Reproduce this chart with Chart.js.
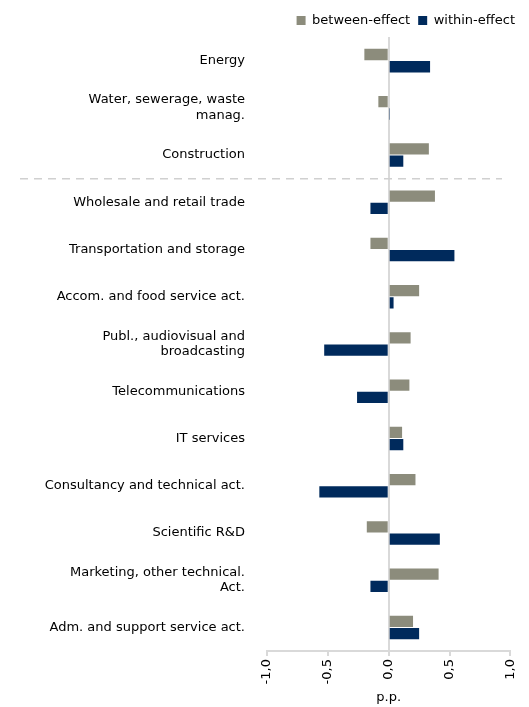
<!DOCTYPE html>
<html><head><meta charset="utf-8">
<script src="https://cdn.jsdelivr.net/npm/chart.js@4"></script>
<style>body{margin:0;background:#fff}#wrap{width:529px;height:707px}</style>
</head><body><div id="wrap"><canvas id="c"></canvas></div>
<script>
const categories = [
  'Energy', ['Water, sewerage, waste', 'manag.'], 'Construction',
  'Wholesale and retail trade', 'Transportation and storage', 'Accom. and food service act.',
  ['Publ., audiovisual and', 'broadcasting'], 'Telecommunications', 'IT services',
  'Consultancy and technical act.', 'Scientific R&D', ['Marketing, other technical.', 'Act.'],
  'Adm. and support service act.'
]
const betweenEffect = [-0.20, -0.085, 0.33, 0.38, -0.15, 0.25, 0.18, 0.17, 0.11, 0.22, -0.18, 0.41, 0.20]
const withinEffect = [0.34, 0.005, 0.12, -0.15, 0.54, 0.04, -0.53, -0.26, 0.12, -0.57, 0.42, -0.15, 0.25]
const xTicks = [-1, -0.5, 0, 0.5, 1]

Chart.defaults.font.family = 'DejaVu Sans, Verdana, sans-serif'
Chart.defaults.font.size = 13
Chart.defaults.color = '#000000'

const divider = {
  id: 'divider',
  afterDatasetsDraw(chart) {
    const y = chart.scales.y
    const pos = (y.getPixelForValue(2) + y.getPixelForValue(3)) / 2
    const ctx = chart.ctx
    ctx.save()
    ctx.strokeStyle = '#d0d0d0'
    ctx.lineWidth = 1.5
    ctx.setLineDash([8, 6])
    ctx.beginPath()
    ctx.moveTo(20, pos)
    ctx.lineTo(502, pos)
    ctx.stroke()
    ctx.restore()
  }
}

new Chart(document.getElementById('c'), {
  type: 'bar',
  data: {
    labels: categories,
    datasets: [
      { label: 'between-effect', data: betweenEffect, backgroundColor: '#8c8c7c', categoryPercentage: 0.52, barPercentage: 0.92 },
      { label: 'within-effect', data: withinEffect, backgroundColor: '#002a5c', categoryPercentage: 0.52, barPercentage: 0.92 }
    ]
  },
  options: {
    indexAxis: 'y',
    responsive: true,
    maintainAspectRatio: false,
    animation: false,
    layout: { padding: { left: 0, right: 6, top: 6, bottom: 0 } },
    plugins: {
      legend: {
        align: 'end',
        labels: { boxWidth: 9, boxHeight: 9, padding: 8, font: { size: 13 } }
      },
      tooltip: { enabled: false }
    },
    scales: {
      y: {
        grid: { display: false },
        border: { display: false },
        afterFit: s => { s.width = 267 },
        ticks: { padding: 14, color: '#000' }
      },
      x: {
        min: -1, max: 1,
        afterBuildTicks: s => { s.ticks = xTicks.map(v => ({ value: v })) },
        afterTickToLabelConversion: s => {
          s.ticks.forEach(t => { t.label = t.value.toFixed(1).replace('.', ',') })
        },
        grid: {
          drawOnChartArea: true,
          color: ctx => ctx.tick && ctx.tick.value === 0 ? '#d9d9d9' : 'transparent',
          lineWidth: 2,
          drawTicks: true,
          tickLength: 5,
          tickColor: '#d9d9d9'
        },
        border: { color: '#d9d9d9', width: 2 },
        ticks: { minRotation: 90, maxRotation: 90 },
        title: { display: true, text: 'p.p.', padding: 2 }
      }
    }
  },
  plugins: [divider]
})
</script></body></html>
